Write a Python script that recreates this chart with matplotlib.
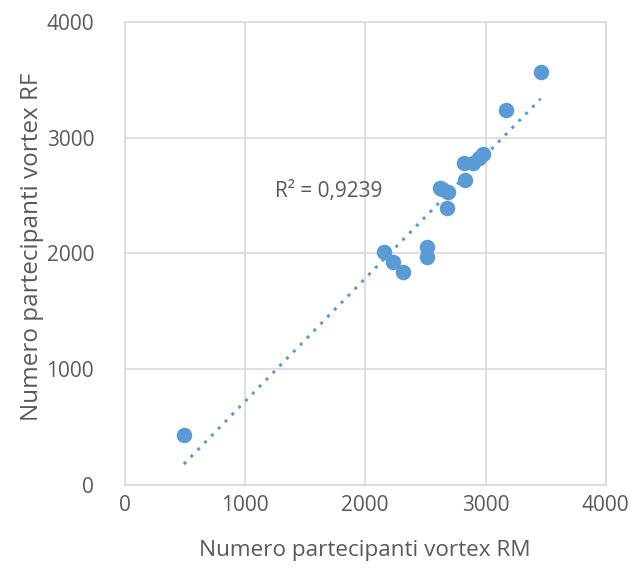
import matplotlib.pyplot as plt
import numpy as np

plt.rcParams['font.family'] = ['Open Sans', 'DejaVu Sans']

# participants per vortex: RM (x) vs RF (y)
rm = [492, 2158, 2233, 2317, 2517, 2517, 2620, 2642, 2692, 2683, 2833,
      2817, 2892, 2942, 2983, 3167, 3458]
rf = [431, 2009, 1922, 1836, 2052, 1966, 2560, 2552, 2526, 2388, 2629,
      2776, 2784, 2819, 2862, 3241, 3569]
r2_label = "R² = 0,9239"
ticks = [0, 1000, 2000, 3000, 4000]

blue = "#5B9BD5"
grey_txt = "#595959"
grid_col = "#D9D9D9"

fig, ax = plt.subplots(figsize=(6.33, 5.7), dpi=100)
fig.subplots_adjust(left=0.197, right=0.957, top=0.962, bottom=0.149)

x = np.array(rm)
y = np.array(rf)
ax.scatter(x, y, s=125, color=blue, zorder=3, linewidths=0)

# linear trendline, dotted
k, b = np.polyfit(x, y, 1)
xs = np.array([x.min(), x.max()])
ax.plot(xs, k * xs + b, color=blue, linestyle=(0, (1, 2.2)), linewidth=2.2,
        zorder=2)
ax.text(1250, 2530, r2_label, fontsize=15, color=grey_txt, va="center")

ax.set_xlim(0, 4000)
ax.set_ylim(0, 4000)
ax.set_xticks(ticks)
ax.set_yticks(ticks)
ax.grid(True, color=grid_col, linewidth=1.2)
ax.set_axisbelow(True)
for s in ax.spines.values():
    s.set_color(grid_col)
    s.set_linewidth(1.2)
ax.tick_params(length=0, labelsize=15, colors=grey_txt)
ax.tick_params(axis="x", pad=7)
ax.tick_params(axis="y", pad=22)

ax.set_xlabel("Numero partecipanti vortex RM", fontsize=16.2,
              color=grey_txt)
ax.set_ylabel("Numero partecipanti vortex RF", fontsize=17.5,
              color=grey_txt)
ax.xaxis.set_label_coords(0.5, -0.118)
ax.yaxis.set_label_coords(-0.167, 0.515)

fig.savefig("out.png")
plt.close(fig)
